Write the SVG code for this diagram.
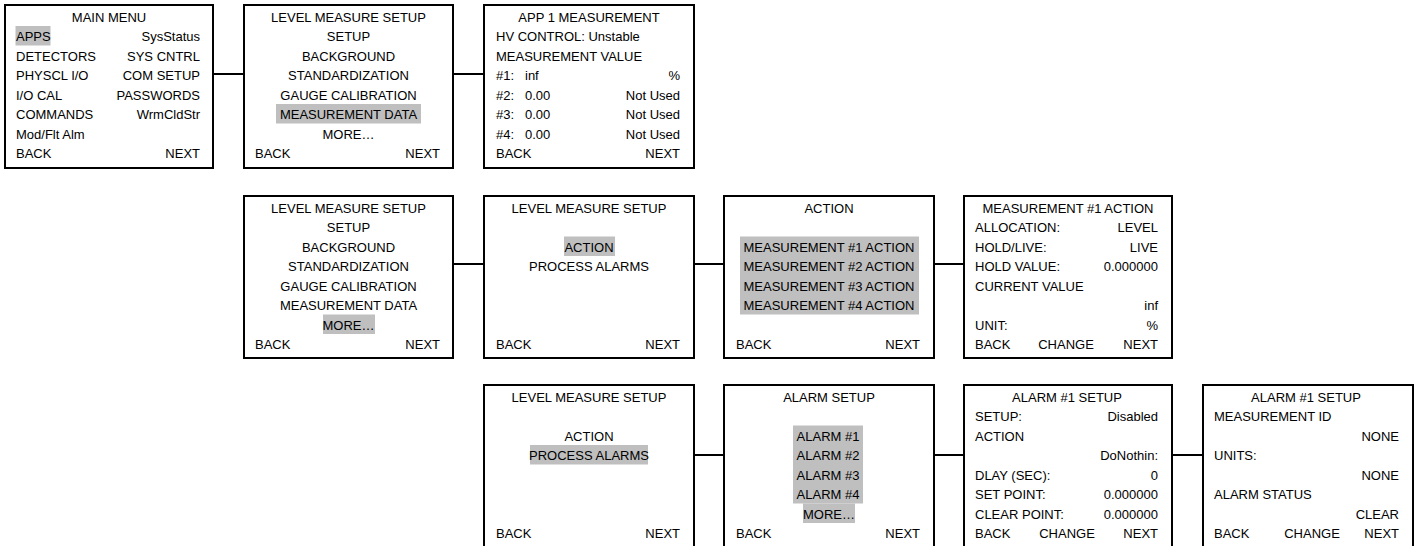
<svg xmlns="http://www.w3.org/2000/svg" width="1422" height="546" viewBox="0 0 1422 546">
<style>
.bg{fill:#fff}
.box{fill:none;stroke:#000;stroke-width:2}
.hl{fill:#bfbfbf}
text{font-family:"Liberation Sans",Arial,sans-serif;font-size:13px;fill:#000}
.c{text-anchor:middle}
.r{text-anchor:end}
.conn line{stroke:#000;stroke-width:2}
</style>
<rect class="bg" x="0" y="0" width="1422" height="546"/>

<g class="conn" id="connectors">
<line x1="213" y1="74" x2="244" y2="74"/>
<line x1="453" y1="74" x2="484" y2="74"/>
<line x1="453" y1="264" x2="484" y2="264"/>
<line x1="694" y1="264" x2="724" y2="264"/>
<line x1="934" y1="264" x2="964" y2="264"/>
<line x1="694" y1="455" x2="724" y2="455"/>
<line x1="934" y1="455" x2="964" y2="455"/>
<line x1="1172" y1="455" x2="1203" y2="455"/>
</g>

<g id="main-menu">
<rect class="hl" x="15.5" y="26" width="35" height="19.5"/>
<rect class="box" x="5" y="5" width="208" height="163"/>
<text class="c" x="109" y="21.5">MAIN MENU</text>
<text x="16" y="41">APPS</text><text class="r" x="200" y="41">SysStatus</text>
<text x="16" y="60.5">DETECTORS</text><text class="r" x="200" y="60.5">SYS CNTRL</text>
<text x="16" y="80">PHYSCL I/O</text><text class="r" x="200" y="80">COM SETUP</text>
<text x="16" y="99.5">I/O CAL</text><text class="r" x="200" y="99.5">PASSWORDS</text>
<text x="16" y="119">COMMANDS</text><text class="r" x="200" y="119">WrmCldStr</text>
<text x="16" y="138.5">Mod/Flt Alm</text>
<text x="16" y="158">BACK</text><text class="r" x="200" y="158">NEXT</text>
</g>

<g id="level-setup-1">
<rect class="hl" x="276" y="104" width="145" height="19.5"/>
<rect class="box" x="244" y="5" width="209" height="163"/>
<text class="c" x="348.5" y="21.5">LEVEL MEASURE SETUP</text>
<text class="c" x="348.5" y="41">SETUP</text>
<text class="c" x="348.5" y="60.5">BACKGROUND</text>
<text class="c" x="348.5" y="80">STANDARDIZATION</text>
<text class="c" x="348.5" y="99.5">GAUGE CALIBRATION</text>
<text class="c" x="348.5" y="119">MEASUREMENT DATA</text>
<text class="c" x="348.5" y="138.5">MORE…</text>
<text x="255" y="158">BACK</text><text class="r" x="440" y="158">NEXT</text>
</g>

<g id="app1-measurement">
<rect class="box" x="484" y="5" width="210" height="163"/>
<text class="c" x="589" y="21.5">APP 1 MEASUREMENT</text>
<text x="496" y="41">HV CONTROL: Unstable</text>
<text x="496" y="60.5">MEASUREMENT VALUE</text>
<text x="496" y="80">#1:</text><text x="525" y="80">inf</text><text class="r" x="680" y="80">%</text>
<text x="496" y="99.5">#2:</text><text x="525" y="99.5">0.00</text><text class="r" x="680" y="99.5">Not Used</text>
<text x="496" y="119">#3:</text><text x="525" y="119">0.00</text><text class="r" x="680" y="119">Not Used</text>
<text x="496" y="138.5">#4:</text><text x="525" y="138.5">0.00</text><text class="r" x="680" y="138.5">Not Used</text>
<text x="496" y="158">BACK</text><text class="r" x="680" y="158">NEXT</text>
</g>

<g id="level-setup-2">
<rect class="hl" x="323" y="314.5" width="52" height="19.5"/>
<rect class="box" x="244" y="196" width="209" height="162"/>
<text class="c" x="348.5" y="212.5">LEVEL MEASURE SETUP</text>
<text class="c" x="348.5" y="232">SETUP</text>
<text class="c" x="348.5" y="251.5">BACKGROUND</text>
<text class="c" x="348.5" y="271">STANDARDIZATION</text>
<text class="c" x="348.5" y="290.5">GAUGE CALIBRATION</text>
<text class="c" x="348.5" y="310">MEASUREMENT DATA</text>
<text class="c" x="348.5" y="329.5">MORE…</text>
<text x="255" y="349">BACK</text><text class="r" x="440" y="349">NEXT</text>
</g>

<g id="level-setup-action">
<rect class="hl" x="564" y="236.5" width="51" height="19.5"/>
<rect class="box" x="484" y="196" width="210" height="162"/>
<text class="c" x="589" y="212.5">LEVEL MEASURE SETUP</text>
<text class="c" x="589" y="251.5">ACTION</text>
<text class="c" x="589" y="271">PROCESS ALARMS</text>
<text x="496" y="349">BACK</text><text class="r" x="680" y="349">NEXT</text>
</g>

<g id="action">
<rect class="hl" x="740" y="236.5" width="179" height="78"/>
<rect class="box" x="724" y="196" width="210" height="162"/>
<text class="c" x="829" y="212.5">ACTION</text>
<text class="c" x="829" y="251.5">MEASUREMENT #1 ACTION</text>
<text class="c" x="829" y="271">MEASUREMENT #2 ACTION</text>
<text class="c" x="829" y="290.5">MEASUREMENT #3 ACTION</text>
<text class="c" x="829" y="310">MEASUREMENT #4 ACTION</text>
<text x="736" y="349">BACK</text><text class="r" x="920" y="349">NEXT</text>
</g>

<g id="measurement1-action">
<rect class="box" x="964" y="196" width="208" height="162"/>
<text class="c" x="1068" y="212.5">MEASUREMENT #1 ACTION</text>
<text x="975" y="232">ALLOCATION:</text><text class="r" x="1158" y="232">LEVEL</text>
<text x="975" y="251.5">HOLD/LIVE:</text><text class="r" x="1158" y="251.5">LIVE</text>
<text x="975" y="271">HOLD VALUE:</text><text class="r" x="1158" y="271">0.000000</text>
<text x="975" y="290.5">CURRENT VALUE</text>
<text class="r" x="1158" y="310">inf</text>
<text x="975" y="329.5">UNIT:</text><text class="r" x="1158" y="329.5">%</text>
<text x="975" y="349">BACK</text><text class="c" x="1066" y="349">CHANGE</text><text class="r" x="1158" y="349">NEXT</text>
</g>

<g id="level-setup-alarms">
<rect class="hl" x="530" y="445" width="118" height="19.5"/>
<rect class="box" x="484" y="385" width="210" height="163"/>
<text class="c" x="589" y="401.5">LEVEL MEASURE SETUP</text>
<text class="c" x="589" y="440.5">ACTION</text>
<text class="c" x="589" y="460">PROCESS ALARMS</text>
<text x="496" y="538">BACK</text><text class="r" x="680" y="538">NEXT</text>
</g>

<g id="alarm-setup">
<rect class="hl" x="793" y="425.5" width="70" height="78"/>
<rect class="hl" x="803" y="503.5" width="52" height="19.5"/>
<rect class="box" x="724" y="385" width="210" height="163"/>
<text class="c" x="829" y="401.5">ALARM SETUP</text>
<text class="c" x="828" y="440.5">ALARM #1</text>
<text class="c" x="828" y="460">ALARM #2</text>
<text class="c" x="828" y="479.5">ALARM #3</text>
<text class="c" x="828" y="499">ALARM #4</text>
<text class="c" x="829" y="518.5">MORE…</text>
<text x="736" y="538">BACK</text><text class="r" x="920" y="538">NEXT</text>
</g>

<g id="alarm1-setup-a">
<rect class="box" x="964" y="385" width="208" height="163"/>
<text class="c" x="1067" y="401.5">ALARM #1 SETUP</text>
<text x="975" y="421">SETUP:</text><text class="r" x="1158" y="421">Disabled</text>
<text x="975" y="440.5">ACTION</text>
<text class="r" x="1158" y="460">DoNothin:</text>
<text x="975" y="479.5">DLAY (SEC):</text><text class="r" x="1158" y="479.5">0</text>
<text x="975" y="499">SET POINT:</text><text class="r" x="1158" y="499">0.000000</text>
<text x="975" y="518.5">CLEAR POINT:</text><text class="r" x="1158" y="518.5">0.000000</text>
<text x="975" y="538">BACK</text><text class="c" x="1067" y="538">CHANGE</text><text class="r" x="1158" y="538">NEXT</text>
</g>

<g id="alarm1-setup-b">
<rect class="box" x="1203" y="385" width="210" height="163"/>
<text class="c" x="1306" y="401.5">ALARM #1 SETUP</text>
<text x="1214" y="421">MEASUREMENT ID</text>
<text class="r" x="1399" y="440.5">NONE</text>
<text x="1214" y="460">UNITS:</text>
<text class="r" x="1399" y="479.5">NONE</text>
<text x="1214" y="499">ALARM STATUS</text>
<text class="r" x="1399" y="518.5">CLEAR</text>
<text x="1214" y="538">BACK</text><text class="c" x="1312" y="538">CHANGE</text><text class="r" x="1399" y="538">NEXT</text>
</g>
</svg>
